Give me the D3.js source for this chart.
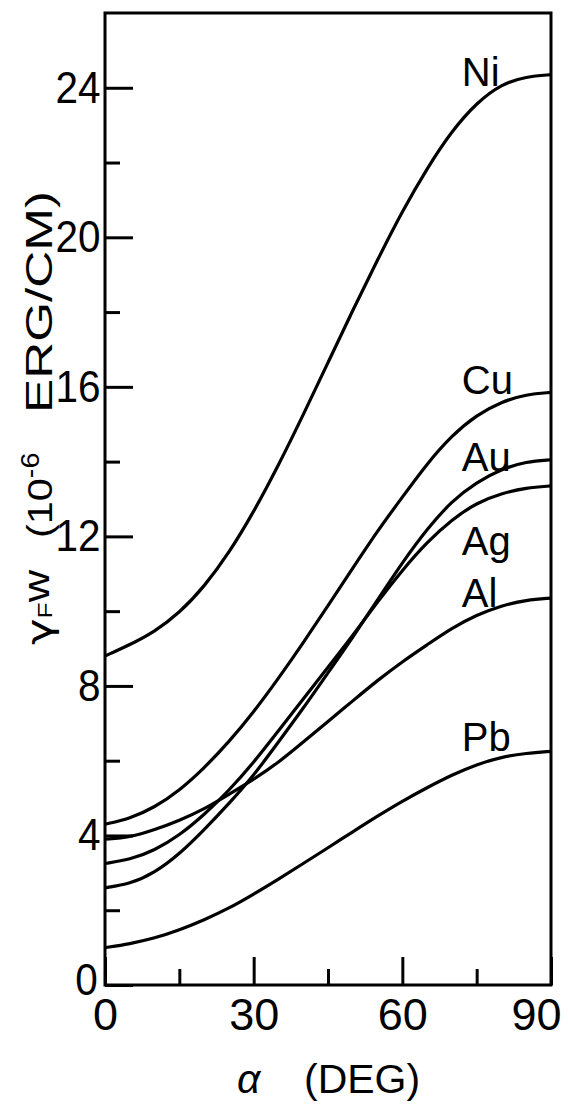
<!DOCTYPE html>
<html>
<head>
<meta charset="utf-8">
<script src="https://cdn.jsdelivr.net/npm/d3@7"></script>
<style>
  html, body { margin: 0; padding: 0; background: #fff; }
  svg { display: block; }
  text { font-family: "Liberation Sans", Arial, sans-serif; fill: #000; }
</style>
</head>
<body>
<svg id="chart"></svg>
<script>
// angle alpha (deg), sampled every 5 deg
const alpha = [0, 5, 10, 15, 20, 25, 30, 35, 40, 45, 50, 55, 60, 65, 70, 75, 80, 85, 90];

// gamma_F w (10^-6 erg/cm)
const ni = [8.8, 9.1, 9.45, 9.95, 10.65, 11.55, 12.65, 13.9, 15.25, 16.65, 18.05, 19.4, 20.7, 21.85, 22.85, 23.6, 24.1, 24.3, 24.35];
const cu = [4.3, 4.45, 4.75, 5.2, 5.8, 6.5, 7.3, 8.2, 9.15, 10.15, 11.15, 12.15, 13.05, 13.95, 14.7, 15.25, 15.6, 15.8, 15.85];
const au = [2.6, 2.7, 3.0, 3.5, 4.15, 4.85, 5.6, 6.5, 7.4, 8.35, 9.3, 10.3, 11.3, 12.2, 12.95, 13.45, 13.8, 14.0, 14.05];
const ag = [3.25, 3.35, 3.6, 4.0, 4.55, 5.2, 5.95, 6.8, 7.65, 8.5, 9.35, 10.25, 11.1, 11.85, 12.45, 12.9, 13.15, 13.3, 13.35];
const al = [3.9, 3.95, 4.15, 4.4, 4.7, 5.1, 5.5, 5.95, 6.5, 7.05, 7.6, 8.15, 8.65, 9.1, 9.55, 9.9, 10.15, 10.3, 10.35];
const pb = [1.0, 1.1, 1.25, 1.47, 1.74, 2.05, 2.43, 2.83, 3.25, 3.67, 4.1, 4.52, 4.92, 5.28, 5.62, 5.9, 6.1, 6.2, 6.25];

const metals = ['Ni', 'Cu', 'Au', 'Ag', 'Al', 'Pb'];
const seriesValues = [ni, cu, au, ag, al, pb];
// value on the y axis where each name sits
const labelValues = [24.05, 15.8, 13.75, 11.5, 10.1, 6.25];

const xTicks = [0, 30, 60, 90];
const xMinor = [15, 45, 75];
const yTicks = [0, 4, 8, 12, 16, 20, 24];
const yMinor = [2, 6, 10, 14, 18, 22];

const width = 568, height = 1104;
const margin = { top: 13, right: 17, bottom: 119, left: 105 };

const svg = d3.select('#chart')
  .attr('width', width)
  .attr('height', height);

const x = d3.scaleLinear().domain([0, 90]).range([margin.left, width - margin.right]);
const y = d3.scaleLinear().domain([0, 26]).range([height - margin.bottom, margin.top]);

// minor ticks (no labels)
svg.append('g')
  .attr('transform', `translate(${x(0)},0)`)
  .call(d3.axisLeft(y).tickValues(yMinor).tickSize(-15).tickFormat(''))
  .call(g => g.select('.domain').remove());

svg.append('g')
  .attr('transform', `translate(0,${y(0)})`)
  .call(d3.axisBottom(x).tickValues(xMinor).tickSize(-16).tickFormat(''))
  .call(g => g.select('.domain').remove());

// major ticks with labels
const yAxis = svg.append('g')
  .attr('transform', `translate(${x(0)},0)`)
  .call(d3.axisLeft(y).tickValues(yTicks).tickSize(-28).tickPadding(5))
  .call(g => g.select('.domain').remove());

const xAxis = svg.append('g')
  .attr('transform', `translate(0,${y(0)})`)
  .call(d3.axisBottom(x).tickValues(xTicks).tickSize(-28).tickPadding(13))
  .call(g => g.select('.domain').remove());

svg.selectAll('.tick line')
  .attr('stroke', '#000')
  .attr('stroke-width', 3);

svg.selectAll('.tick text')
  .style('font-family', '"Liberation Sans", Arial, sans-serif')
  .style('font-size', '45px')
  .attr('fill', '#000');

// y labels are a little narrow in the original lettering
yAxis.selectAll('.tick text')
  .attr('transform', 'scale(0.9,1)');

// the two zeros sit corner to corner
yAxis.selectAll('.tick text').filter(d => d === 0).attr('dy', '0.2em').attr('dx', '-3');
// the 90 label is pulled in so it stays on the page
xAxis.selectAll('.tick text').filter(d => d === 90).attr('dx', '-15');

// frame
svg.append('rect')
  .attr('x', x(0))
  .attr('y', y(26))
  .attr('width', x(90) - x(0))
  .attr('height', y(0) - y(26))
  .attr('fill', 'none')
  .attr('stroke', '#000')
  .attr('stroke-width', 3);

// curves
const line = d3.line()
  .x((d, i) => x(alpha[i]))
  .y(d => y(d))
  .curve(d3.curveBasis);

svg.append('g')
  .selectAll('path')
  .data(seriesValues)
  .enter()
  .append('path')
  .attr('d', line)
  .attr('fill', 'none')
  .attr('stroke', '#000')
  .attr('stroke-width', 3.2)
  .attr('stroke-linejoin', 'round');

// curve names
svg.append('g')
  .selectAll('text')
  .data(metals)
  .enter()
  .append('text')
  .attr('x', x(72))
  .attr('y', (d, i) => y(labelValues[i]))
  .style('font-size', '40px')
  .text(d => d);

// x axis title
const xTitle = svg.append('text')
  .attr('y', 1093)
  .style('font-size', '41px');
xTitle.append('tspan').attr('x', 237).style('font-style', 'italic').text('α');
xTitle.append('tspan').attr('x', 304).text('(DEG)');

// y axis title, read bottom to top; the lettering is wide, so stretch it
const yt1 = svg.append('text')
  .attr('transform', 'translate(52,645) rotate(-90) scale(1.25,1)')
  .style('font-size', '36px');
yt1.append('tspan').style('font-family', '"DejaVu Sans", sans-serif').text('γ');
yt1.append('tspan').style('font-size', '21px').text('F');
yt1.append('tspan').attr('dy', -3).text('w');

const yt2 = svg.append('text')
  .attr('transform', 'translate(52,538) rotate(-90) scale(1.15,1)')
  .style('font-size', '36px');
yt2.append('tspan').text('(10');
yt2.append('tspan').attr('dy', -13).style('font-size', '25px').text('-6');

svg.append('text')
  .attr('transform', 'translate(52,413) rotate(-90)')
  .attr('textLength', 222)
  .attr('lengthAdjust', 'spacingAndGlyphs')
  .style('font-size', '36px')
  .text('ERG/CM)');
</script>
</body>
</html>
